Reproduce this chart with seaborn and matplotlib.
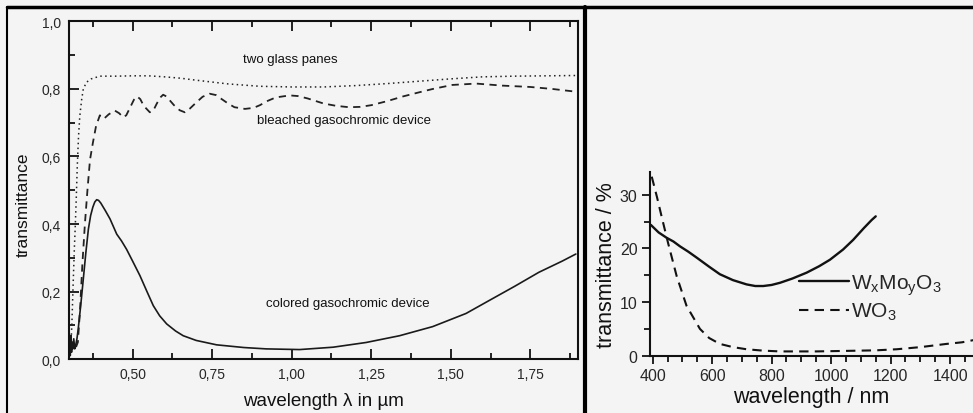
import numpy as np
import pandas as pd
import matplotlib
matplotlib.use('Agg')
import matplotlib.pyplot as plt
from matplotlib.lines import Line2D
from matplotlib.ticker import MultipleLocator, FuncFormatter
import seaborn as sns

# Left panel: transmittance vs wavelength (um)
glass_x = [0.300, 0.305, 0.309, 0.313, 0.317, 0.320, 0.323, 0.326, 0.330, 0.334, 0.340, 0.345,
           0.355, 0.370, 0.397, 0.45, 0.50, 0.55, 0.60, 0.65, 0.70, 0.80, 0.90, 1.00, 1.10,
           1.20, 1.30, 1.40, 1.50, 1.60, 1.70, 1.80, 1.90]
glass_y = [0.04, 0.02, 0.10, 0.22, 0.33, 0.40, 0.48, 0.57, 0.66, 0.72, 0.77, 0.80,
           0.82, 0.83, 0.838, 0.838, 0.839, 0.839, 0.836, 0.832, 0.826, 0.815, 0.808, 0.806, 0.806,
           0.810, 0.816, 0.823, 0.830, 0.836, 0.838, 0.839, 0.840]

bleached_x = [0.300, 0.310, 0.320, 0.328, 0.335, 0.342, 0.350, 0.358, 0.366, 0.375, 0.385, 0.397,
              0.410, 0.425, 0.444, 0.458, 0.470, 0.480, 0.492, 0.504, 0.514, 0.524, 0.535, 0.554,
              0.565, 0.575, 0.586, 0.596, 0.606, 0.618, 0.630, 0.648, 0.664, 0.680, 0.700, 0.720,
              0.742, 0.762, 0.780, 0.800, 0.820, 0.853, 0.880, 0.900, 0.925, 0.950, 0.994, 1.020,
              1.050, 1.100, 1.140, 1.180, 1.215, 1.250, 1.300, 1.350, 1.400, 1.443, 1.505, 1.580,
              1.662, 1.750, 1.820, 1.893]
bleached_y = [0.05, 0.03, 0.03, 0.05, 0.15, 0.28, 0.40, 0.50, 0.59, 0.64, 0.69, 0.722,
              0.712, 0.725, 0.736, 0.728, 0.716, 0.722, 0.745, 0.768, 0.778, 0.770, 0.750, 0.731,
              0.736, 0.755, 0.774, 0.783, 0.778, 0.765, 0.752, 0.737, 0.731, 0.742, 0.760, 0.777,
              0.786, 0.782, 0.770, 0.757, 0.746, 0.741, 0.744, 0.752, 0.765, 0.775, 0.781, 0.779,
              0.772, 0.757, 0.750, 0.746, 0.747, 0.752, 0.764, 0.778, 0.790, 0.800, 0.812, 0.816,
              0.810, 0.806, 0.800, 0.792]

colored_x = [0.300, 0.302, 0.304, 0.306, 0.308, 0.310, 0.312, 0.315, 0.318, 0.321, 0.325, 0.329,
             0.337, 0.345, 0.353, 0.361, 0.368, 0.375, 0.381, 0.387, 0.393, 0.400, 0.414, 0.429,
             0.450, 0.465, 0.481, 0.500, 0.523, 0.545, 0.565, 0.585, 0.607, 0.635, 0.659, 0.700,
             0.764, 0.850, 0.920, 1.025, 1.130, 1.234, 1.339, 1.443, 1.548, 1.620, 1.700, 1.777,
             1.850, 1.893]
colored_y = [0.02, 0.06, 0.01, 0.07, 0.02, 0.05, 0.03, 0.06, 0.03, 0.04, 0.06, 0.089,
             0.16, 0.237, 0.315, 0.385, 0.425, 0.450, 0.465, 0.472, 0.470, 0.462, 0.440, 0.415,
             0.370, 0.350, 0.325, 0.290, 0.247, 0.200, 0.158, 0.128, 0.104, 0.083, 0.069, 0.055,
             0.042, 0.034, 0.030, 0.028, 0.035, 0.049, 0.069, 0.096, 0.135, 0.173, 0.215, 0.257,
             0.290, 0.311]

# Right panel: transmittance (%) vs wavelength (nm)
wmo_x = [394, 420, 447, 470, 492, 520, 548, 590, 626, 670, 716, 745, 772, 800, 828,
         870, 918, 960, 996, 1040, 1074, 1110, 1136, 1150]
wmo_y = [24.4, 23.0, 22.0, 21.3, 20.4, 19.4, 18.3, 16.6, 15.2, 14.1, 13.3, 13.0, 13.0, 13.2, 13.6,
         14.4, 15.5, 16.7, 17.9, 19.8, 21.6, 23.8, 25.3, 26.0]

wo3_x = [397, 415, 430, 452, 481, 514, 559, 590, 626, 670, 716, 770, 828, 950, 1052,
         1150, 1220, 1300, 1388, 1440, 1478]
wo3_y = [33.4, 29.5, 26.0, 21.0, 14.8, 9.3, 5.0, 3.3, 2.2, 1.6, 1.2, 0.95, 0.8, 0.8, 0.9,
         1.0, 1.2, 1.6, 2.2, 2.5, 2.9]

sns.set_theme(style='white')
plt.rcParams['font.family'] = ['Liberation Sans', 'DejaVu Sans']
plt.rcParams['mathtext.fontset'] = 'custom'
plt.rcParams['mathtext.rm'] = 'Liberation Sans'
plt.rcParams['mathtext.it'] = 'Liberation Sans'
plt.rcParams['mathtext.default'] = 'rm'

bg = '#f4f4f4'
fig = plt.figure(figsize=(9.73, 4.14), dpi=100, facecolor=bg)

# ---------------- left panel ----------------
ax1 = fig.add_axes([0.0709, 0.1304, 0.5232, 0.8153])
ax1.set_facecolor(bg)
sns.lineplot(x=glass_x, y=glass_y, ax=ax1, color='#222222', lw=1.1,
             linestyle=(0, (1, 2.2)), estimator=None, sort=False)
sns.lineplot(x=bleached_x, y=bleached_y, ax=ax1, color='#222222', lw=1.3,
             linestyle=(0, (4, 3)), estimator=None, sort=False)
sns.lineplot(x=colored_x, y=colored_y, ax=ax1, color='#1a1a1a', lw=1.2,
             estimator=None, sort=False)

ax1.set_xlim(0.30, 1.90)
ax1.set_ylim(0, 1.0)
ax1.xaxis.set_major_locator(MultipleLocator(0.25))
ax1.xaxis.set_minor_locator(MultipleLocator(0.125))
ax1.yaxis.set_major_locator(MultipleLocator(0.2))
ax1.yaxis.set_minor_locator(MultipleLocator(0.1))
ax1.xaxis.set_major_formatter(FuncFormatter(lambda v, p: f'{v:.2f}'.replace('.', ',') if v > 0.4 else ''))
ax1.yaxis.set_major_formatter(FuncFormatter(lambda v, p: f'{v:.1f}'.replace('.', ',')))
ax1.tick_params(which='both', direction='in', top=True, bottom=True, left=True, right=False,
                color='#111111', width=1.3)
ax1.tick_params(which='major', length=7, labelsize=10, pad=6)
ax1.tick_params(which='minor', length=4)
for s in ax1.spines.values():
    s.set_color('#111111')
    s.set_linewidth(1.5)
ax1.set_xlabel('wavelength λ in µm', fontsize=13.5, labelpad=8, color='#111111')
ax1.set_ylabel('transmittance', fontsize=12.5, color='#111111')
ax1.yaxis.set_label_coords(-0.075, 0.46)

ax1.text(0.995, 0.888, 'two glass panes', fontsize=9.5, ha='center', va='center', color='#111111')
ax1.text(1.165, 0.707, 'bleached gasochromic device', fontsize=9.5, ha='center', va='center', color='#111111')
ax1.text(1.175, 0.166, 'colored gasochromic device', fontsize=9.5, ha='center', va='center', color='#111111')

# ---------------- right panel ----------------
ax2 = fig.add_axes([0.668, 0.1384, 0.332, 0.4428])
ax2.set_facecolor(bg)
sns.lineplot(x=wmo_x, y=wmo_y, ax=ax2, color='#111111', lw=1.7,
             estimator=None, sort=False, label=r'W$_x$Mo$_y$O$_3$')
sns.lineplot(x=wo3_x, y=wo3_y, ax=ax2, color='#111111', lw=1.5,
             linestyle=(0, (4.5, 3)), estimator=None, sort=False, label=r'WO$_3$')
ax2.set_xlim(391, 1477)
ax2.set_ylim(0, 34.2)
ax2.xaxis.set_major_locator(MultipleLocator(200))
ax2.xaxis.set_minor_locator(MultipleLocator(50))
ax2.yaxis.set_major_locator(MultipleLocator(10))
ax2.yaxis.set_minor_locator(MultipleLocator(5))
ax2.tick_params(which='both', direction='out', bottom=True, left=True, color='#111111', width=1.3)
ax2.tick_params(which='major', length=6, labelsize=11.5, pad=3)
ax2.tick_params(which='minor', length=4)
for side in ['top', 'right']:
    ax2.spines[side].set_visible(False)
for side in ['left', 'bottom']:
    ax2.spines[side].set_color('#111111')
    ax2.spines[side].set_linewidth(1.5)
ax2.set_xlabel('wavelength / nm', fontsize=15.5, labelpad=2, color='#111111')
ax2.set_ylabel('transmittance / %', fontsize=15.5, labelpad=2, color='#111111')
ax2.legend(loc='upper left', bbox_to_anchor=(0.46, 0.455), frameon=False, fontsize=15,
           handlelength=2.4, handletextpad=0.1, borderpad=0, borderaxespad=0, labelspacing=0.2)

# frame lines of the composite picture
fig.add_artist(Line2D([0.0072, 1.0], [0.9807, 0.9807], color='black', lw=2.5))
fig.add_artist(Line2D([0.0072, 0.0072], [0.0, 0.9807], color='black', lw=1.5))
fig.add_artist(Line2D([0.6017, 0.6017], [0.0, 0.9807], color='black', lw=3))

fig.savefig('out.png', dpi=100, facecolor=bg)
